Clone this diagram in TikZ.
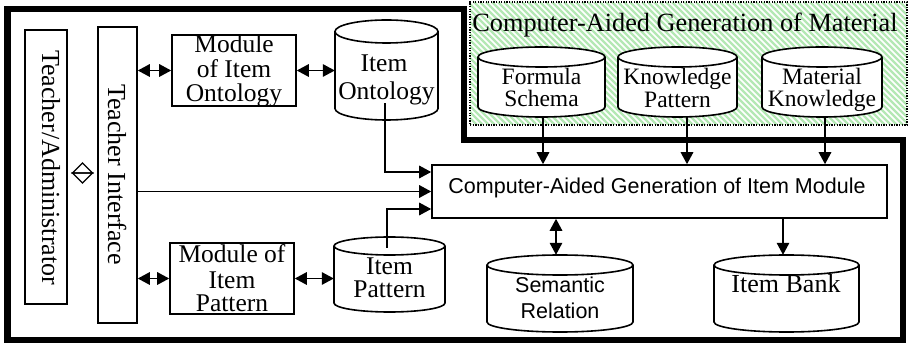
\documentclass[tikz,border=0pt]{standalone}
\usepackage{fontspec}
\setmainfont{Liberation Serif}
\newfontfamily\arialf{Liberation Sans}
\usetikzlibrary{arrows.meta,fit}
\tikzset{
  frameline/.style={line width=6.5pt, line join=miter},
  box/.style={draw, line width=1.6pt, fill=white, inner sep=0pt},
  cylline/.style={draw, line width=1.6pt, fill=white},
  conn/.style={line width=1.5pt, -{Triangle[length=12pt,width=12.5pt]}},
  dconn/.style={line width=1.5pt, {Triangle[length=12pt,width=12.5pt]}-{Triangle[length=12pt,width=12.5pt]}},
  hatchline/.style={line width=2.2pt, color={rgb,255:red,180;green,232;blue,180}},
  dotbox/.style={draw, line width=1.3pt, dash pattern=on 1.3pt off 1.3pt, inner sep=0pt},
  lbl/.style={inner sep=0pt, anchor=base},
  serifA/.style={lbl, font=\fontsize{23.5}{24}\selectfont},
  serifB/.style={lbl, font=\fontsize{25.5}{26}\selectfont},
  sansA/.style={lbl, font=\arialf\fontsize{21.5}{22}\selectfont},
  rot/.style={inner sep=0pt, anchor=base west, rotate=-90, font=\fontsize{26}{27}\selectfont},
}
\newcommand\dbcyl[6]{%
  \draw[cylline] (#2,{-(#3)-(#6)}) -- (#2,{-(#5)+(#6)})
     arc[start angle=180,end angle=360,x radius={((#4)-(#2))/2},y radius=#6]
     -- (#4,{-(#3)-(#6)})
     arc[start angle=0,end angle=180,x radius={((#4)-(#2))/2},y radius=#6] -- cycle;
  \draw[line width=1.6pt] (#2,{-(#3)-(#6)})
     arc[start angle=180,end angle=360,x radius={((#4)-(#2))/2},y radius=#6];
  \node[fit={(#2,-#3) (#4,-#5)}, inner sep=0pt] (#1) {};
}
\begin{document}
\begin{tikzpicture}[x=1pt,y=1pt]
\useasboundingbox (0,0) rectangle (909,-344);
\fill[white] (0,0) rectangle (909,-344);

% thick outer frame
\draw[frameline] (7.5,-9) -- (464,-9) -- (464,-140) -- (903,-140) -- (903,-340) -- (7.5,-340) -- cycle;

% green hatched group
\begin{scope}
  \clip (470,-2) rectangle (907,-125);
  \foreach \i in {-140,-134,...,440} \draw[hatchline] (470+\i,-2) -- ++(140,-140);
\end{scope}
\node[dotbox, fit={(470,-2) (907,-125)}] (gm) {};
\node[lbl, font=\fontsize{26.3}{27}\selectfont] (title) at (685,-32) {Computer-Aided Generation of Material};

% cylinders
\dbcyl{io}{335}{20}{438}{120}{11.5}
\dbcyl{fs}{478}{47}{605}{117}{10}
\dbcyl{kp}{618}{47}{737}{117}{10}
\dbcyl{mk}{762}{47}{882}{117}{10}
\dbcyl{ip}{334}{237}{445}{312}{9}
\dbcyl{sr}{487}{255}{633}{332}{10}
\dbcyl{ib}{714}{255}{859}{332}{10}

% boxes
\node[box, minimum width=42pt, minimum height=274pt] (ta) at (46,-167) {};
\node[box, minimum width=39pt, minimum height=296pt] (ti) at (117.5,-175) {};
\node[box, minimum width=124pt, minimum height=71pt] (mo) at (234,-70.5) {};
\node[box, minimum width=124pt, minimum height=71pt] (mp) at (232,-278.5) {};
\node[box, minimum width=455pt, minimum height=53pt] (cg) at (659.5,-191.5) {};

% diamond between Teacher/Administrator and Teacher Interface
\draw[line width=1.4pt, line join=miter] (82.5,-163) -- (92.5,-173) -- (72.5,-173) -- cycle;
\draw[line width=1.4pt, line join=miter] (82.5,-183) -- (92.5,-173) -- (72.5,-173) -- cycle;

% connectors
\draw[dconn] (ti.east |- mo.west) -- (mo.west);
\draw[dconn] (mo.east) -- (io.west |- mo.east);
\draw[conn] ([xshift=-1.5pt,yshift=17pt]io.south) |- ([yshift=19.5pt]cg.west);
\draw[conn] (ti.east |- cg.west) -- (cg.west);
\draw[conn] ([xshift=-2.5pt,yshift=-11pt]ip.north) |- ([yshift=-17.5pt]cg.west);
\draw[dconn] (ti.east |- mp.west) -- (mp.west);
\draw[dconn] (mp.east) -- (ip.west |- mp.east);
\coordinate (fsB) at ([xshift=1.5pt]fs.south);
\coordinate (kpB) at ([xshift=9.5pt,yshift=0.5pt]kp.south);
\coordinate (mkB) at ([xshift=3pt]mk.south);
\draw[conn] (fsB) -- (fsB |- cg.north);
\draw[conn] (kpB) -- (kpB |- cg.north);
\draw[conn] (mkB) -- (mkB |- cg.north);
\coordinate (srT) at ([xshift=-4pt]sr.north);
\coordinate (ibT) at ([xshift=-3.5pt]ib.north);
\draw[dconn] (srT |- cg.south) -- (srT);
\draw[conn] (ibT |- cg.south) -- (ibT);

% texts
\node[rot] (taT) at (42,-50) {Teacher/Administrator};
\node[rot] (tiT) at (108,-84) {Teacher Interface};

\node[serifB] (mo1) at (234,-53) {Module};
\node[serifB] (mo2) at (234,-78) {of Item};
\node[serifB] (mo3) at (234,-102) {Ontology};

\node[serifB] (io1) at (384,-72) {Item};
\node[serifB] (io2) at (386.5,-100) {Ontology};

\node[serifB] (mp1) at (232,-263) {Module of};
\node[serifB] (mp2) at (232,-288) {Item};
\node[serifB] (mp3) at (232,-311) {Pattern};

\node[serifB] (ip1) at (389.5,-275) {Item};
\node[serifB] (ip2) at (389.5,-298) {Pattern};

\node[serifA] (fs1) at (541.5,-85) {Formula};
\node[serifA] (fs2) at (541.5,-107) {Schema};
\node[serifA] (kp1) at (677.5,-85) {Knowledge};
\node[serifA] (kp2) at (677.5,-108) {Pattern};
\node[serifA] (mk1) at (822,-84.5) {Material};
\node[serifA] (mk2) at (822,-106.5) {Knowledge};

\node[sansA] (cgT) at (657,-194) {Computer-Aided Generation of Item Module};
\node[sansA] (sr1) at (560,-293) {Semantic};
\node[sansA] (sr2) at (560,-318) {Relation};
\node[lbl, font=\fontsize{26}{27}\selectfont] (ibT1) at (786,-293) {Item Bank};
\end{tikzpicture}
\end{document}
